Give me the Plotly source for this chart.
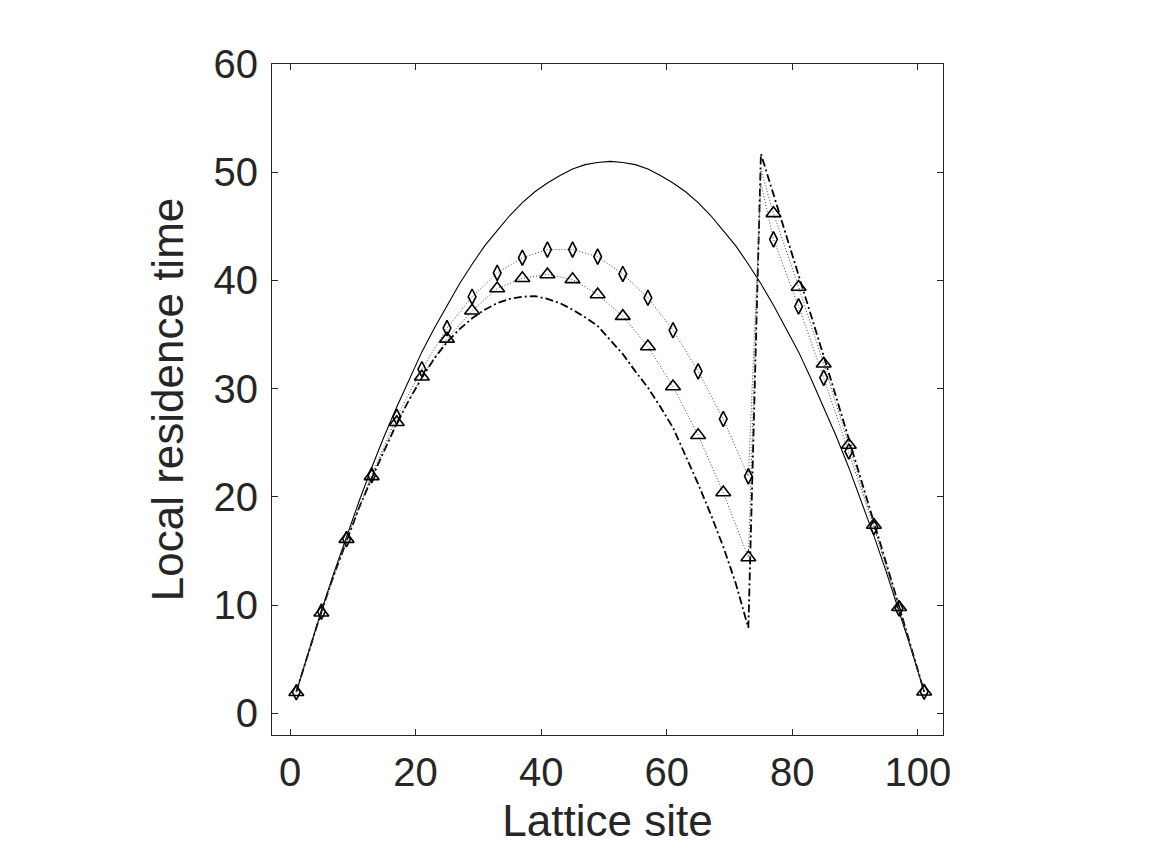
import plotly.graph_objects as go

# ---- data ----
sites_odd = list(range(1, 102, 2))

solid_y = [2.0, 5.8, 9.5, 13.0, 16.4, 19.6, 22.7, 25.6, 28.3, 30.9,
           33.4, 35.6, 37.7, 39.7, 41.5, 43.2, 44.6, 46.0, 47.2, 48.2,
           49.0, 49.7, 50.3, 50.7, 50.9, 51.0, 50.9, 50.7, 50.3, 49.7,
           49.0, 48.2, 47.2, 46.0, 44.6, 43.2, 41.5, 39.7, 37.7, 35.6,
           33.4, 30.9, 28.3, 25.6, 22.7, 19.6, 16.4, 13.0, 9.5, 5.8, 2.0]

dashdot_y = [2.0, 5.8, 9.4, 12.8, 16.0, 19.0, 21.7, 24.3, 26.8, 29.0,
             31.0, 32.8, 34.3, 35.5, 36.5, 37.3, 37.9, 38.3, 38.5, 38.55,
             38.3, 37.9, 37.3, 36.6, 35.8, 34.5, 33.2, 31.6, 30.1, 28.3,
             26.4, 23.8, 21.2, 18.4, 15.4, 12.0, 7.9,
             51.7, 48.0, 44.3, 40.5, 36.8, 33.0, 29.2, 25.4, 21.6, 17.7,
             13.8, 9.9, 6.0, 2.0]

sites_sampled = [1, 5, 9, 13, 17, 21, 25, 29, 33, 37, 41, 45, 49, 53, 57,
                 61, 65, 69, 73, 75, 77, 81, 85, 89, 93, 97, 101]
marker_sites = [1, 5, 9, 13, 17, 21, 25, 29, 33, 37, 41, 45, 49, 53, 57,
                61, 65, 69, 73, 77, 81, 85, 89, 93, 97, 101]

triangle_y = [1.95, 9.3, 16.1, 21.9, 26.9, 31.1, 34.6, 37.2, 39.25, 40.2,
              40.55, 40.1, 38.7, 36.7, 33.9, 30.2, 25.7, 20.4, 14.4,
              50.2, 46.2, 39.4, 32.3, 24.8, 17.4, 9.8, 2.0]

diamond_y = [1.95, 9.4, 16.1, 22.0, 27.4, 31.8, 35.6, 38.5, 40.7, 42.1,
             42.85, 42.85, 42.2, 40.6, 38.4, 35.4, 31.6, 27.2, 21.9,
             49.0, 43.8, 37.6, 31.0, 24.2, 17.2, 9.7, 2.0]

x_ticks = [0, 20, 40, 60, 80, 100]
y_ticks = [0, 10, 20, 30, 40, 50, 60]
x_title = "Lattice site"
y_title = "Local residence time"

# ---- figure ----
INK = "#262626"
FONT = "Liberation Sans, Arial, sans-serif"
fig = go.Figure()

fig.add_trace(go.Scatter(x=sites_odd, y=solid_y, mode="lines",
                         line=dict(color="black", width=1.1),
                         showlegend=False, hoverinfo="skip"))

fig.add_trace(go.Scatter(x=sites_odd, y=dashdot_y, mode="lines",
                         line=dict(color="black", width=1.8, dash="8px,3px,2px,3px"),
                         showlegend=False, hoverinfo="skip"))

def pick(sites, vals, wanted):
    lookup = dict(zip(sites, vals))
    return [lookup[s] for s in wanted]

for vals, sym, size in [(triangle_y, "triangle-up-open", 13),
                        (diamond_y, "diamond-tall-open", 11)]:
    fig.add_trace(go.Scatter(x=sites_sampled, y=vals, mode="lines",
                             line=dict(color="#444444", width=1, dash="1px,2px"),
                             showlegend=False, hoverinfo="skip"))
    fig.add_trace(go.Scatter(x=marker_sites, y=pick(sites_sampled, vals, marker_sites),
                             mode="markers",
                             marker=dict(symbol=sym, size=size, color="black",
                                         line=dict(color="black", width=1.6)),
                             showlegend=False, hoverinfo="skip"))

axis_common = dict(showline=True, linecolor=INK, linewidth=1, mirror="ticks",
                   ticks="inside", ticklen=6, tickcolor=INK, tickwidth=1,
                   showgrid=False, zeroline=False, automargin=False,
                   tickfont=dict(family=FONT, size=40, color=INK))

fig.update_xaxes(range=[-2.87, 104.0], tickvals=x_ticks, ticklabelstandoff=2,
                 title=dict(text=x_title, standoff=20,
                            font=dict(family=FONT, size=44, color=INK)),
                 **axis_common)
fig.update_yaxes(range=[-2.0, 60.0], tickvals=y_ticks, ticklabelstandoff=5,
                 title=dict(text=y_title, standoff=16,
                            font=dict(family=FONT, size=44, color=INK)),
                 **axis_common)

fig.update_layout(width=1159, height=837,
                  margin=dict(l=264, r=224, t=56, b=110),
                  paper_bgcolor="white", plot_bgcolor="white",
                  showlegend=False)

fig.write_html("out.html")
